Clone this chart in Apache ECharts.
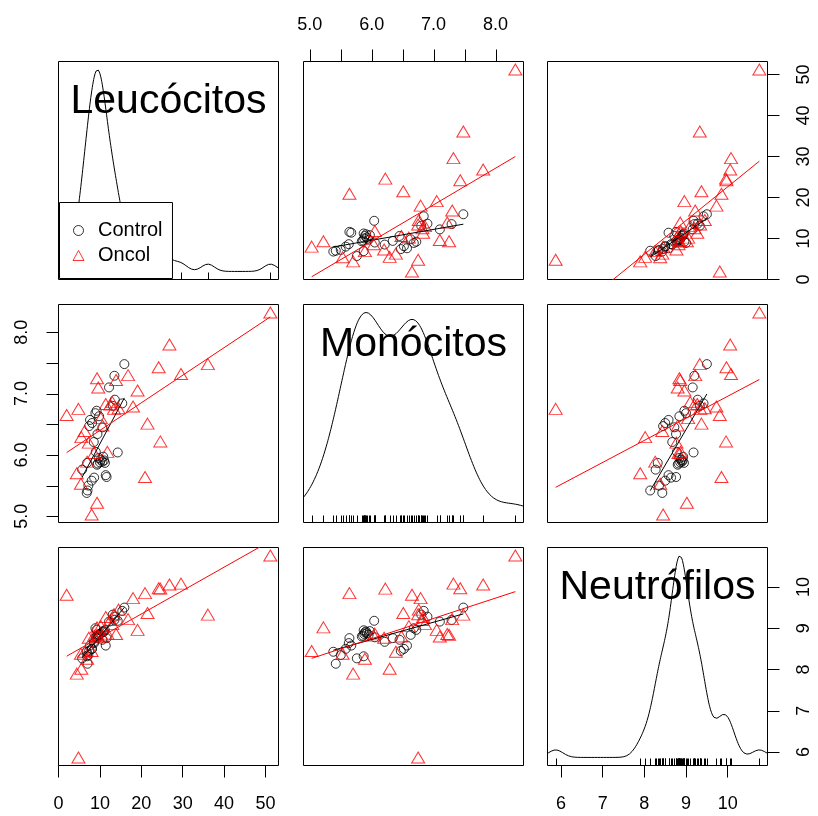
<!DOCTYPE html>
<html><head><meta charset="utf-8">
<script src="https://cdn.jsdelivr.net/npm/echarts@6/dist/echarts.min.js"></script>
<style>html,body{margin:0;padding:0;background:#fff}#c{width:818px;height:816px}</style>
</head><body><div id="c"></div>
<script>
// ---------------- data ----------------
const varNames = ['Leucócitos', 'Monócitos', 'Neutrófilos'];
const groupNames = ['Control', 'Oncol'];

const controlLeuc = [15.9, 13.5, 12.2, 13.6, 13.1, 15.4, 9.8, 8.1, 7.6, 10.6, 9.4, 8.5, 14.3, 10.0, 10.6, 11.2, 9.5, 11.0, 6.9, 11.6, 8.6, 6.8, 5.7, 7.0, 8.9, 9.2, 7.4, 9.0, 11.4, 10.2, 9.7, 10.8, 9.3, 8.0, 7.2];
const controlMono = [7.48, 7.29, 7.10, 6.90, 6.80, 6.84, 6.63, 6.52, 6.57, 6.45, 6.34, 6.21, 6.04, 5.88, 5.89, 5.87, 5.86, 5.91, 5.87, 5.64, 5.63, 5.38, 5.76, 5.42, 6.68, 6.72, 6.47, 6.05, 5.67, 5.92, 5.95, 5.97, 5.84, 5.58, 5.50];
const controlNeut = [9.50, 9.20, 9.16, 9.28, 9.33, 9.42, 8.84, 8.50, 8.58, 8.72, 8.76, 8.67, 9.18, 8.86, 8.90, 8.95, 8.82, 8.92, 8.32, 8.76, 8.64, 8.43, 8.27, 8.14, 9.00, 8.96, 8.45, 8.78, 8.58, 8.88, 8.84, 8.93, 8.80, 8.50, 8.35];

const oncolLeuc = [51.2, 36.1, 29.6, 26.8, 24.2, 24.6, 21.5, 20.9, 19.1, 18.0, 16.8, 13.9, 9.3, 9.6, 4.8, 1.95, 5.5, 6.9, 4.4, 5.4, 9.3, 8.0, 8.6, 11.8, 7.3, 6.3, 10.6, 13.4, 12.5, 13.0, 11.4, 14.5, 10.2];
const oncolMono = [8.32, 7.48, 7.32, 7.80, 7.43, 6.22, 6.51, 5.64, 7.05, 6.79, 7.30, 7.22, 7.25, 7.10, 6.75, 6.65, 6.29, 5.89, 5.70, 5.53, 5.22, 5.03, 6.03, 6.05, 6.20, 6.39, 6.48, 6.75, 6.82, 6.86, 6.83, 6.76, 6.60];
const oncolNeut = [10.76, 9.33, 10.08, 10.06, 9.97, 9.96, 9.37, 9.85, 8.96, 9.73, 9.22, 8.86, 8.84, 8.80, 5.87, 9.81, 8.02, 8.26, 7.90, 8.38, 9.02, 8.45, 8.82, 8.87, 8.77, 8.43, 8.80, 9.34, 9.20, 9.10, 9.27, 9.45, 9.05];

const leucTicks = [0, 10, 20, 30, 40, 50];
const monoTicks = [5.0, 5.5, 6.0, 6.5, 7.0, 7.5, 8.0];
const monoLabels = [5.0, 6.0, 7.0, 8.0];
const neutTicks = [6, 7, 8, 9, 10];

// ---------------- helpers ----------------
const FONT = 'Liberation Sans';
const ctrlVars = [controlLeuc, controlMono, controlNeut];
const oncVars = [oncolLeuc, oncolMono, oncolNeut];
const tickSets = [leucTicks, monoTicks, neutTicks];
const labelSets = [leucTicks, monoLabels, neutTicks];
const fmts = [v => String(v), v => Number(v).toFixed(1), v => String(v)];

function extent(arr) {
  const mn = Math.min(...arr), mx = Math.max(...arr), r = mx - mn;
  return [mn - 0.04 * r, mx + 0.04 * r];
}
const allVars = [0, 1, 2].map(i => ctrlVars[i].concat(oncVars[i]));
const ranges = allVars.map(extent);

function lmLine(xs, ys) {
  const n = xs.length;
  const mx = xs.reduce((a, b) => a + b, 0) / n, my = ys.reduce((a, b) => a + b, 0) / n;
  let sxy = 0, sxx = 0;
  for (let k = 0; k < n; k++) { sxy += (xs[k] - mx) * (ys[k] - my); sxx += (xs[k] - mx) ** 2; }
  const b = sxy / sxx, a = my - b * mx;
  const x0 = Math.min(...xs), x1 = Math.max(...xs);
  return [[x0, a + b * x0], [x1, a + b * x1]];
}
function quantile(s, p) {
  const h = (s.length - 1) * p, lo = Math.floor(h), hi = Math.min(lo + 1, s.length - 1);
  return s[lo] + (h - lo) * (s[hi] - s[lo]);
}
function densityCurve(x) {
  const n = x.length;
  const m = x.reduce((a, b) => a + b, 0) / n;
  const sd = Math.sqrt(x.reduce((a, b) => a + (b - m) ** 2, 0) / (n - 1));
  const s = [...x].sort((a, b) => a - b);
  const iqr = quantile(s, 0.75) - quantile(s, 0.25);
  const bw = 0.9 * Math.min(sd, iqr / 1.34) * Math.pow(n, -0.2);
  const lo = s[0] - 3 * bw, hi = s[n - 1] + 3 * bw;
  const pts = [];
  for (let k = 0; k < 512; k++) {
    const t = lo + (hi - lo) * k / 511;
    let d = 0;
    for (const xi of x) d += Math.exp(-0.5 * ((t - xi) / bw) ** 2);
    pts.push([t, d / (n * bw * Math.sqrt(2 * Math.PI))]);
  }
  const ds = pts.map(p => p[1]);
  const dmin = Math.min(...ds), dmax = Math.max(...ds);
  const r = s[n - 1] - s[0];
  return pts.map(p => [p[0], s[0] + p[1] * r / (dmax - dmin)]);
}

// ---------------- layout ----------------
const colLeft = [58.5, 303.5, 547.5];
const rowTop = [61.5, 304.5, 547.5];
const PW = 220, PH = 218, TICK = 12;

const grid = [], xAxis = [], yAxis = [], series = [], graphic = [];

for (let i = 0; i < 3; i++) {
  for (let j = 0; j < 3; j++) {
    const k = i * 3 + j;
    grid.push({ left: colLeft[j], top: rowTop[i], width: PW, height: PH, show: true,
      borderColor: '#000', borderWidth: 1, backgroundColor: 'transparent' });

    const showBottom = (i === 2 && j % 2 === 0);
    const showTop = (i === 0 && j % 2 === 1);
    const showLeft = (j === 0 && i % 2 === 1);
    const showRight = (j === 2 && i % 2 === 0);

    xAxis.push({
      type: 'value', gridIndex: k, min: ranges[j][0], max: ranges[j][1],
      position: showTop ? 'top' : 'bottom',
      axisLine: { show: false }, splitLine: { show: false },
      axisTick: { show: (showBottom || showTop) && j !== 1, length: TICK, inside: false,
        customValues: tickSets[j], lineStyle: { color: '#000', width: 1 } },
      axisLabel: { show: showBottom || showTop, customValues: labelSets[j], formatter: fmts[j],
        fontSize: 18, color: '#000', fontFamily: FONT, margin: showTop ? 27 : 30 }
    });
    yAxis.push({
      type: 'value', gridIndex: k, min: ranges[i][0], max: ranges[i][1],
      position: showRight ? 'right' : 'left',
      axisLine: { show: false }, splitLine: { show: false },
      axisTick: { show: (showLeft || showRight) && i !== 1, length: TICK, inside: false,
        customValues: tickSets[i], lineStyle: { color: '#000', width: 1 } },
      axisLabel: { show: showLeft || showRight, customValues: labelSets[i], formatter: fmts[i],
        rotate: 90, fontSize: 18, color: '#000', fontFamily: FONT, margin: showLeft ? 27 : 28 }
    });

    // Monócitos tick marks (every 0.5) on the outer axes, placed through the axis scale
    if (showTop && j === 1) {
      const yTop = ranges[i][1];
      series.push({ type: 'custom', name: 'ticks top', xAxisIndex: k, yAxisIndex: k, clip: false, silent: true,
        data: monoTicks.map(v => [v, yTop]),
        renderItem: function (params, api) {
          const p = api.coord([api.value(0), api.value(1)]);
          const x = Math.round(p[0]) + 0.5;
          return { type: 'line', shape: { x1: x, y1: p[1], x2: x, y2: p[1] - TICK },
            style: { stroke: '#000', lineWidth: 1 } };
        } });
    }
    if (showLeft && i === 1) {
      const xLeft = ranges[j][0];
      series.push({ type: 'custom', name: 'ticks left', xAxisIndex: k, yAxisIndex: k, clip: false, silent: true,
        data: monoTicks.map(v => [xLeft, v]),
        renderItem: function (params, api) {
          const p = api.coord([api.value(0), api.value(1)]);
          const y = Math.round(p[1]) + 0.5;
          return { type: 'line', shape: { x1: p[0], y1: y, x2: p[0] - TICK, y2: y },
            style: { stroke: '#000', lineWidth: 1 } };
        } });
    }

    if (i === j) {
      series.push({ type: 'line', name: 'density ' + varNames[i], xAxisIndex: k, yAxisIndex: k,
        data: densityCurve(allVars[i]), symbol: 'none', clip: true, silent: true,
        lineStyle: { color: '#000', width: 1 }, z: 3 });
      const yMin = ranges[i][0];
      series.push({ type: 'custom', name: 'rug ' + varNames[i], xAxisIndex: k, yAxisIndex: k,
        data: allVars[i].map(v => [v, yMin]), silent: true, clip: true,
        renderItem: function (params, api) {
          const p = api.coord([api.value(0), api.value(1)]);
          const x = Math.round(p[0]) + 0.5;
          return { type: 'line', shape: { x1: x, y1: p[1], x2: x, y2: p[1] - 7 },
            style: { stroke: '#000', lineWidth: 1 } };
        }, z: 3 });
      graphic.push({ type: 'text', x: colLeft[j] + PW / 2, y: rowTop[i] + 40,
        style: { text: varNames[i], font: '41px "' + FONT + '"', fill: '#000',
          textAlign: 'center', textVerticalAlign: 'middle' }, z: 10 });
    } else {
      const cx = ctrlVars[j], cy = ctrlVars[i], ox = oncVars[j], oy = oncVars[i];
      series.push({ type: 'scatter', name: groupNames[0], xAxisIndex: k, yAxisIndex: k,
        data: cx.map((v, t) => [v, cy[t]]), symbol: 'circle', symbolSize: 9, silent: true,
        itemStyle: { color: 'rgba(0,0,0,0)', borderColor: '#000', borderWidth: 1 }, z: 3 });
      series.push({ type: 'scatter', name: groupNames[1], xAxisIndex: k, yAxisIndex: k,
        data: ox.map((v, t) => [v, oy[t]]), symbol: 'triangle', symbolSize: [13, 11], silent: true,
        itemStyle: { color: 'rgba(0,0,0,0)', borderColor: '#ff0000', borderWidth: 1 }, z: 4 });
      series.push({ type: 'line', name: 'fit ' + groupNames[0], xAxisIndex: k, yAxisIndex: k,
        data: lmLine(cx, cy), symbol: 'none', clip: true, silent: true,
        lineStyle: { color: '#000', width: 1 }, z: 5 });
      series.push({ type: 'line', name: 'fit ' + groupNames[1], xAxisIndex: k, yAxisIndex: k,
        data: lmLine(ox, oy), symbol: 'none', clip: true, silent: true,
        lineStyle: { color: '#ff0000', width: 1 }, z: 5 });
    }
  }
}

const chart = echarts.init(document.getElementById('c'), null, { renderer: 'canvas' });
chart.setOption({
  animation: false,
  backgroundColor: '#fff',
  textStyle: { fontFamily: FONT },
  grid, xAxis, yAxis, series, graphic,
  legend: {
    data: [
      { name: groupNames[0], icon: 'circle', itemStyle: { color: 'rgba(0,0,0,0)', borderColor: '#000', borderWidth: 1 } },
      { name: groupNames[1], icon: 'triangle', itemStyle: { color: 'rgba(0,0,0,0)', borderColor: '#ff0000', borderWidth: 1 } }
    ],
    orient: 'vertical', left: 59.5, top: 202.5,
    itemWidth: 11, itemHeight: 10, itemGap: 5,
    padding: [18, 10, 13, 13],
    backgroundColor: '#fff', borderColor: '#000', borderWidth: 1, borderRadius: 0,
    selectedMode: false,
    textStyle: { fontSize: 20, color: '#000', fontFamily: FONT, padding: [0, 0, 0, 9] },
    z: 8
  }
});
</script></body></html>
